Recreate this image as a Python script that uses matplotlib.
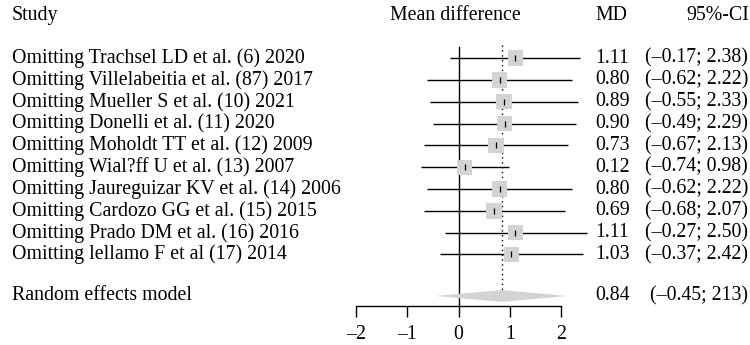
import numpy as np
import matplotlib.pyplot as plt
from matplotlib.patches import Polygon
import matplotlib.transforms as mtransforms

studies = ['Omitting Trachsel LD et al. (6) 2020',
           'Omitting Villelabeitia et al. (87) 2017',
           'Omitting Mueller S et al. (10) 2021',
           'Omitting Donelli et al. (11) 2020',
           'Omitting Moholdt TT et al. (12) 2009',
           'Omitting Wial?ff U et al. (13) 2007',
           'Omitting Jaureguizar KV et al. (14) 2006',
           'Omitting Cardozo GG et al. (15) 2015',
           'Omitting Prado DM et al. (16) 2016',
           'Omitting lellamo F et al (17) 2014']
md = [1.11, 0.80, 0.89, 0.90, 0.73, 0.12, 0.80, 0.69, 1.11, 1.03]
lo = [-0.17, -0.62, -0.55, -0.49, -0.67, -0.74, -0.62, -0.68, -0.27, -0.37]
hi = [2.38, 2.22, 2.33, 2.29, 2.13, 0.98, 2.22, 2.07, 2.50, 2.42]

re_md, re_lo, re_hi = 0.84, -0.45, 2.13
re_label = 'Random effects model'
re_ci_text = '(–0.45; 213)'
xticks = [-2, -1, 0, 1, 2]

plt.rcParams['font.family'] = ['Liberation Serif', 'DejaVu Serif']
fs = 14.3
W, H = 750, 345

fig = plt.figure(figsize=(7.5, 3.45), dpi=100)
# axis -2..2 spans x 356..561 px, bottom spine at y 306 px
ax = fig.add_axes([356 / W, (H - 306) / H, (561 - 356) / W, 306 / H])
ax.set_xlim(-2, 2)
ax.set_ylim(11.36, -2.66)

y = np.arange(len(studies))
y_re = 10.9

# reference lines
ax.plot([0, 0], [-0.5, 11.36], color='black', lw=1.0, zorder=1)
ax.plot([re_md, re_md], [-0.6, y_re - 0.25], color='black', lw=1.0,
        ls=(0, (1, 2.5)), zorder=1)

# study estimates
ax.hlines(y, lo, hi, color='black', lw=1.0, zorder=2, clip_on=False)
ax.scatter(md, y, marker='s', s=122, color='#d3d3d3', edgecolors='none', zorder=3, clip_on=False)
ax.scatter(md, y, marker='|', s=22, color='black', linewidths=0.9, zorder=4, clip_on=False)

# summary diamond
dh = 0.27
ax.add_patch(Polygon([(re_lo, y_re), (re_md, y_re - dh), (re_hi, y_re), (re_md, y_re + dh)],
                     closed=True, facecolor='#d3d3d3', edgecolor='none', zorder=2,
                     clip_on=False))

for s in ['top', 'right', 'left']:
    ax.spines[s].set_visible(False)
ax.spines['bottom'].set_bounds(-2, 2)
ax.spines['bottom'].set_linewidth(1.0)
ax.set_yticks([])
ax.set_xticks(xticks)
ax.set_xticklabels([str(t).replace('-', '–') for t in xticks])
ax.tick_params(axis='x', direction='out', length=8, width=1.0, labelsize=fs, pad=6)
ax.patch.set_visible(False)

# text columns: x in figure pixels, y in data rows
tr = mtransforms.blended_transform_factory(
    mtransforms.Affine2D().scale(1 / W, 1) + fig.transFigure, ax.transData)

ax.text(12, -1.97, 'Study', transform=tr, fontsize=fs, va='center', ha='left', clip_on=False)
ax.text(455, -1.97, 'Mean difference', transform=tr, fontsize=fs, va='center', ha='center', clip_on=False)
ax.text(595, -1.97, 'MD', transform=tr, fontsize=fs, va='center', ha='left', clip_on=False)
ax.text(749, -1.97, '95%-CI', transform=tr, fontsize=fs, va='center', ha='right', clip_on=False)

for i, name in enumerate(studies):
    ax.text(12, y[i], name, transform=tr, fontsize=fs, va='center', ha='left', clip_on=False)
    ax.text(595, y[i], f'{md[i]:.2f}', transform=tr, fontsize=fs, va='center', ha='left', clip_on=False)
    ci = f'({lo[i]:.2f}; {hi[i]:.2f})'.replace('-', '–')
    ax.text(645, y[i], ci, transform=tr, fontsize=fs, va='center', ha='left', clip_on=False)

ax.text(12, y_re, re_label, transform=tr, fontsize=fs, va='center', ha='left', clip_on=False)
ax.text(595, y_re, f'{re_md:.2f}', transform=tr, fontsize=fs, va='center', ha='left', clip_on=False)
ax.text(650, y_re, re_ci_text, transform=tr, fontsize=fs, va='center', ha='left', clip_on=False)

fig.savefig('out.png', dpi=100)
